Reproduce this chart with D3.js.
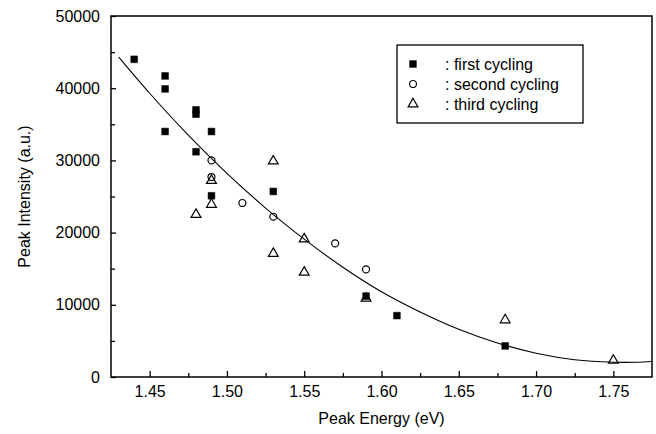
<!DOCTYPE html>
<html>
<head>
<meta charset="utf-8">
<script src="https://cdn.jsdelivr.net/npm/d3@7"></script>
<style>
  body { margin: 0; background: #fff; }
  text { font-family: "Liberation Sans", Arial, sans-serif; fill: #000; }
</style>
</head>
<body>
<svg id="chart" width="656" height="434"></svg>
<script>
// peak energy (eV) / peak intensity (a.u.)
const firstX = [1.44, 1.46, 1.46, 1.46, 1.48, 1.48, 1.48, 1.49, 1.49, 1.53, 1.59, 1.61, 1.68];
const firstY = [44000, 41700, 39900, 34000, 37000, 36400, 31200, 34000, 25100, 25700, 11200, 8500, 4300];

const secondX = [1.49, 1.49, 1.51, 1.53, 1.57, 1.59];
const secondY = [30000, 27700, 24100, 22200, 18500, 14900];

const thirdX = [1.48, 1.49, 1.49, 1.53, 1.53, 1.55, 1.55, 1.59, 1.68, 1.75];
const thirdY = [22500, 27200, 23900, 29900, 17100, 19100, 14500, 10900, 7900, 2300];

// fitted curve, read at intervals along the drawn line
const fitX = [1.43, 1.45, 1.475, 1.50, 1.525, 1.55, 1.575, 1.60, 1.625, 1.65, 1.675, 1.70, 1.725, 1.75, 1.765, 1.775];
const fitY = [44300, 39300, 33500, 28200, 23400, 19100, 15200, 11800, 9000, 6600, 4700, 3300, 2400, 2050, 2050, 2150];

const xTicks = [1.45, 1.50, 1.55, 1.60, 1.65, 1.70, 1.75];
const xMinor = [1.475, 1.525, 1.575, 1.625, 1.675, 1.725];
const yTicks = [0, 10000, 20000, 30000, 40000, 50000];
const yMinor = [5000, 15000, 25000, 35000, 45000];

const legendLabels = [": first cycling", ": second cycling", ": third cycling"];

var svg = d3.select("#chart");

var pLeft = 111, pRight = 652, pTop = 16, pBottom = 377;

var x = d3.scaleLinear().domain([1.425, 1.775]).range([pLeft, pRight]);
var y = d3.scaleLinear().domain([0, 50000]).range([pBottom, pTop]);

// frame
svg.append("rect")
    .attr("x", pLeft).attr("y", pTop)
    .attr("width", pRight - pLeft).attr("height", pBottom - pTop)
    .style("fill", "none").style("stroke", "#000").style("stroke-width", 1.5);

// x axis, ticks pointing in
svg.append("g")
    .attr("transform", "translate(0," + pBottom + ")")
    .call(d3.axisBottom(x).tickValues(xTicks).tickFormat(d3.format(".2f"))
        .tickSizeInner(-6).tickSizeOuter(0).tickPadding(9));
svg.append("g")
    .attr("transform", "translate(0," + pBottom + ")")
    .call(d3.axisBottom(x).tickValues(xMinor).tickFormat("")
        .tickSizeInner(-4).tickSizeOuter(0));

svg.append("g")
    .attr("transform", "translate(" + pLeft + ",0)")
    .call(d3.axisLeft(y).tickValues(yTicks).tickFormat(d3.format("d"))
        .tickSizeInner(-5).tickSizeOuter(0).tickPadding(11));
svg.append("g")
    .attr("transform", "translate(" + pLeft + ",0)")
    .call(d3.axisLeft(y).tickValues(yMinor).tickFormat("")
        .tickSizeInner(-4).tickSizeOuter(0));

svg.selectAll(".domain").remove();
svg.selectAll(".tick line").style("stroke", "#000").style("stroke-width", 1.3);
svg.selectAll(".tick text")
    .style("font-size", "16px")
    .style("font-family", "'Liberation Sans', Arial, sans-serif");

// axis titles
svg.append("text")
    .attr("x", (pLeft + pRight) / 2)
    .attr("y", 424)
    .attr("text-anchor", "middle")
    .style("font-size", "16px")
    .text("Peak Energy (eV)");

svg.append("text")
    .attr("transform", "translate(30," + ((pTop + pBottom) / 2) + ") rotate(-90)")
    .attr("text-anchor", "middle")
    .style("font-size", "16px")
    .text("Peak Intensity (a.u.)");

// fit line
var fitData = fitX.map(function (d, i) { return [d, fitY[i]]; });
var line = d3.line()
    .x(function (d) { return x(d[0]); })
    .y(function (d) { return y(d[1]); })
    .curve(d3.curveCatmullRom);

svg.append("path")
    .datum(fitData)
    .attr("d", line)
    .style("fill", "none")
    .style("stroke", "#000")
    .style("stroke-width", 1.1);

// markers
var sq = d3.symbol().type(d3.symbolSquare).size(46);
var ci = d3.symbol().type(d3.symbolCircle).size(38);
var tri = d3.symbol().type(d3.symbolTriangle).size(42);

function points(xs, ys, sym, filled) {
    svg.append("g")
        .selectAll("path")
        .data(xs.map(function (d, i) { return [d, ys[i]]; }))
        .enter()
        .append("path")
        .attr("d", sym)
        .attr("transform", function (d) {
            return "translate(" + x(d[0]) + "," + y(d[1]) + ")";
        })
        .style("fill", filled ? "#000" : "none")
        .style("stroke", "#000")
        .style("stroke-width", filled ? 0.5 : 1.2);
}

points(firstX, firstY, sq, true);
points(secondX, secondY, ci, false);
points(thirdX, thirdY, tri, false);

// legend
var legend = svg.append("g");
legend.append("rect")
    .attr("x", 397).attr("y", 45)
    .attr("width", 186).attr("height", 78)
    .style("fill", "#fff").style("stroke", "#000").style("stroke-width", 1.3);

var syms = [[sq, true], [ci, false], [tri, false]];
legendLabels.forEach(function (t, i) {
    var yy = 64 + i * 20;
    legend.append("path")
        .attr("d", syms[i][0])
        .attr("transform", "translate(413," + yy + ")")
        .style("fill", syms[i][1] ? "#000" : "none")
        .style("stroke", "#000")
        .style("stroke-width", syms[i][1] ? 0.5 : 1.2);
    legend.append("text")
        .attr("x", 445)
        .attr("y", yy + 5.5)
        .style("font-size", "16px")
        .text(t);
});
</script>
</body>
</html>
